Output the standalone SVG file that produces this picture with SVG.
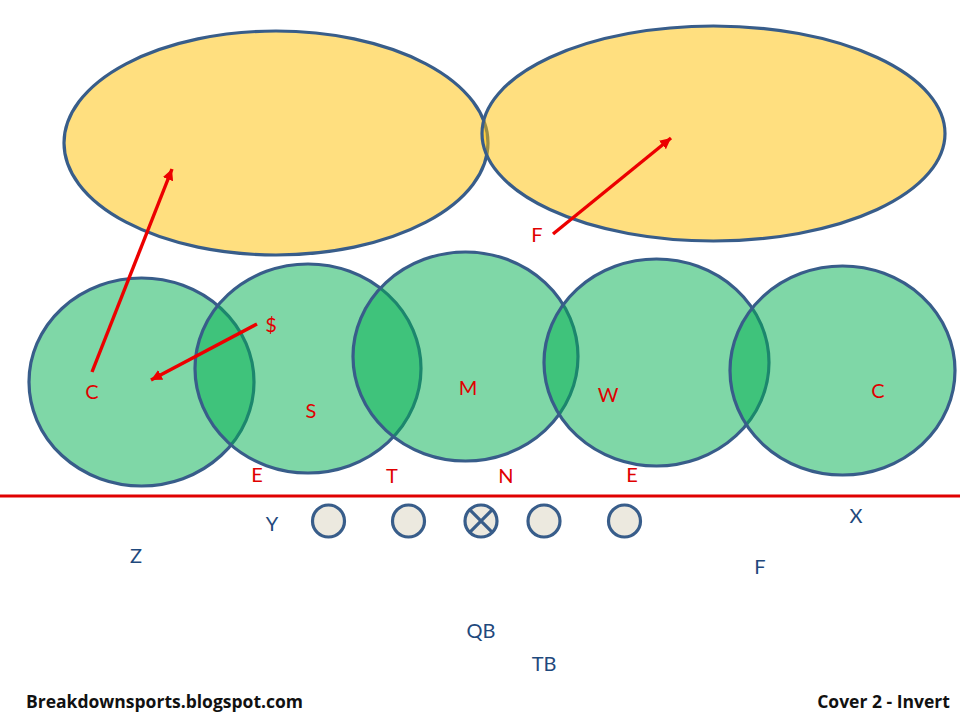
<svg xmlns="http://www.w3.org/2000/svg" width="960" height="720" viewBox="0 0 960 720">
<style>
.deep{fill:#ffc000;fill-opacity:.5;stroke:#385d8a;stroke-width:3.2}
.under{fill:#00b050;fill-opacity:.5;stroke:#385d8a;stroke-width:3.2}
.man{fill:#ece9df;stroke:#385d8a;stroke-width:3.2}
.arrow{stroke:#ec0000;stroke-width:3.4;fill:none}
text{font-family:Lato,"Open Sans","Liberation Sans",sans-serif;font-size:20px;text-anchor:middle}
.d{fill:#e00000}
.o{fill:#1f497d}
.f{font-family:"Open Sans","Liberation Sans",sans-serif;font-weight:700;font-size:17.5px;fill:#111}
</style>
<defs>
<marker id="ah" markerUnits="userSpaceOnUse" markerWidth="12" markerHeight="11" refX="11" refY="5.5" orient="auto"><path d="M0 0L11 5.5L0 11z" fill="#ec0000"/></marker>
</defs>
<rect width="960" height="720" fill="#fff"/>
<g id="deep-zones">
<ellipse id="deep-left" class="deep" cx="276" cy="143" rx="212" ry="112"/>
<ellipse id="deep-right" class="deep" cx="713.5" cy="133.5" rx="231.5" ry="107.5"/>
</g>
<g id="under-zones">
<ellipse id="zone-1" class="under" cx="141.5" cy="382" rx="112.5" ry="104"/>
<ellipse id="zone-2" class="under" cx="308" cy="368.5" rx="113" ry="104.5"/>
<ellipse id="zone-3" class="under" cx="465.5" cy="356.5" rx="112.5" ry="104.5"/>
<ellipse id="zone-4" class="under" cx="656.5" cy="362.5" rx="112.5" ry="103.5"/>
<ellipse id="zone-5" class="under" cx="842.5" cy="370.5" rx="112.5" ry="104.5"/>
</g>
<g id="connectors">
<line x1="0" y1="496" x2="960" y2="496" stroke="#e00000" stroke-width="3"/>
<line class="arrow" x1="92" y1="372" x2="172" y2="169" marker-end="url(#ah)"/>
<line class="arrow" x1="257" y1="324" x2="151" y2="380" marker-end="url(#ah)"/>
<line class="arrow" x1="553" y1="234" x2="671" y2="138" marker-end="url(#ah)"/>
</g>
<g id="line-men">
<circle id="man-1" class="man" cx="328.5" cy="521" r="16"/>
<circle id="man-2" class="man" cx="408.5" cy="521" r="16"/>
<g id="man-3"><circle class="man" cx="481" cy="521" r="16"/><path d="M469.7 509.7L492.3 532.3M492.3 509.7L469.7 532.3" stroke="#385d8a" stroke-width="3.2" fill="none"/></g>
<circle id="man-4" class="man" cx="544" cy="521" r="16"/>
<circle id="man-5" class="man" cx="624.5" cy="521" r="16"/>
</g>
<g id="labels">
<text class="d" x="92" y="399">C</text>
<text class="d" x="271" y="332">$</text>
<text class="d" x="311" y="418">S</text>
<text class="d" x="468" y="395">M</text>
<text class="d" x="608" y="402">W</text>
<text class="d" x="878" y="398">C</text>
<text class="d" x="537" y="242">F</text>
<text class="d" x="257" y="482">E</text>
<text class="d" x="392" y="483">T</text>
<text class="d" x="506" y="483">N</text>
<text class="d" x="632" y="482">E</text>
<text class="o" x="272" y="531">Y</text>
<text class="o" x="136" y="563">Z</text>
<text class="o" x="856" y="523">X</text>
<text class="o" x="760" y="574">F</text>
<text class="o" x="481" y="638">QB</text>
<text class="o" x="544" y="671">TB</text>
<text class="f" x="164.5" y="708">Breakdownsports.blogspot.com</text>
<text class="f" x="883.5" y="708">Cover 2 - Invert</text>
</g>
</svg>
